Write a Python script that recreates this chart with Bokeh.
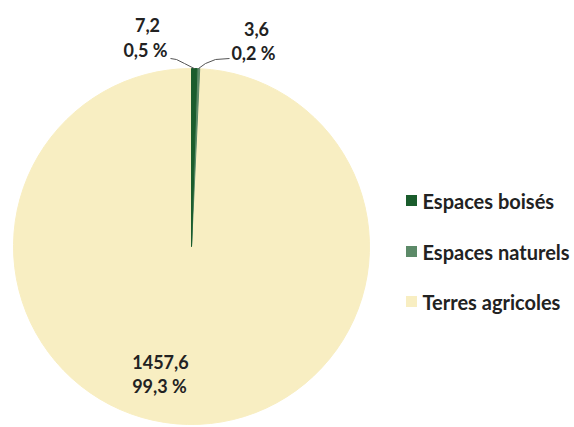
import math
from bokeh.plotting import figure
from bokeh.models import Range1d
from bokeh.core.properties import value
from bokeh.embed import file_html
from bokeh.resources import INLINE

# ---- data ----
categories = ["Espaces boisés", "Espaces naturels", "Terres agricoles"]
values = [7.2, 3.6, 1457.6]
value_labels = ["7,2", "3,6", "1457,6"]
pct_labels = ["0,5 %", "0,2 %", "99,3 %"]
colors = ["#1a5c2c", "#5c8a68", "#f8eec2"]

W, H = 574, 427
p = figure(width=W, height=H, output_backend="svg", toolbar_location=None,
           x_range=Range1d(0, W), y_range=Range1d(0, H), min_border=0)
p.axis.visible = False
p.grid.visible = False
p.outline_line_color = None
p.background_fill_color = "white"
p.border_fill_color = "white"

def Y(y):  # page pixel -> data
    return H - y
def X(x):
    return x

cx, cy, r = X(191), Y(246), 178
total = sum(values)
starts, ends = [], []
acc = 0.0
for v in values:
    starts.append(math.pi / 2 - acc / total * 2 * math.pi)
    acc += v
    ends.append(math.pi / 2 - acc / total * 2 * math.pi)

for i in [2, 1, 0]:
    p.wedge(x=cx, y=cy, radius=r, start_angle=starts[i], end_angle=ends[i],
            direction="clock", fill_color=colors[i], line_color=colors[i], line_width=1)

def rim(i):
    a = (starts[i] + ends[i]) / 2
    return cx + r * math.cos(a), cy + r * math.sin(a)

bx, by = rim(0)
p.line([bx, X(184), X(176), X(170)], [by, Y(63), Y(59), Y(58)], line_color="#555555", line_width=1)
nx, ny = rim(1)
p.line([nx, X(205), X(215), X(229)], [ny, Y(63), Y(59), Y(58)], line_color="#555555", line_width=1)

font = value("Lato")
lab_pos = {0: (147, 24, 145, 49), 1: (256, 28, 253, 52), 2: (160, 361, 159, 385)}
for i in range(3):
    x1, y1, x2, y2 = lab_pos[i]
    p.text(x=[X(x1)], y=[Y(y1)], text=[value_labels[i]], text_font=font,
           text_font_style="bold", text_font_size="18px", text_color="#222222",
           text_align="center", text_baseline="middle")
    p.text(x=[X(x2)], y=[Y(y2)], text=[pct_labels[i]], text_font=font,
           text_font_style="bold", text_font_size="18px", text_color="#222222",
           text_align="center", text_baseline="middle")

# legend
leg_y = [200, 251, 301]
for i in range(3):
    p.rect(x=[X(411)], y=[Y(leg_y[i])], width=11, height=11,
           fill_color=colors[i], line_color=None)
    p.text(x=[X(422)], y=[Y(leg_y[i])], text=[categories[i]], text_font=font,
           text_font_style="bold", text_font_size="20px", text_color="#222222",
           text_align="left", text_baseline="middle")

open("out.html", "w").write(file_html(p, INLINE))
